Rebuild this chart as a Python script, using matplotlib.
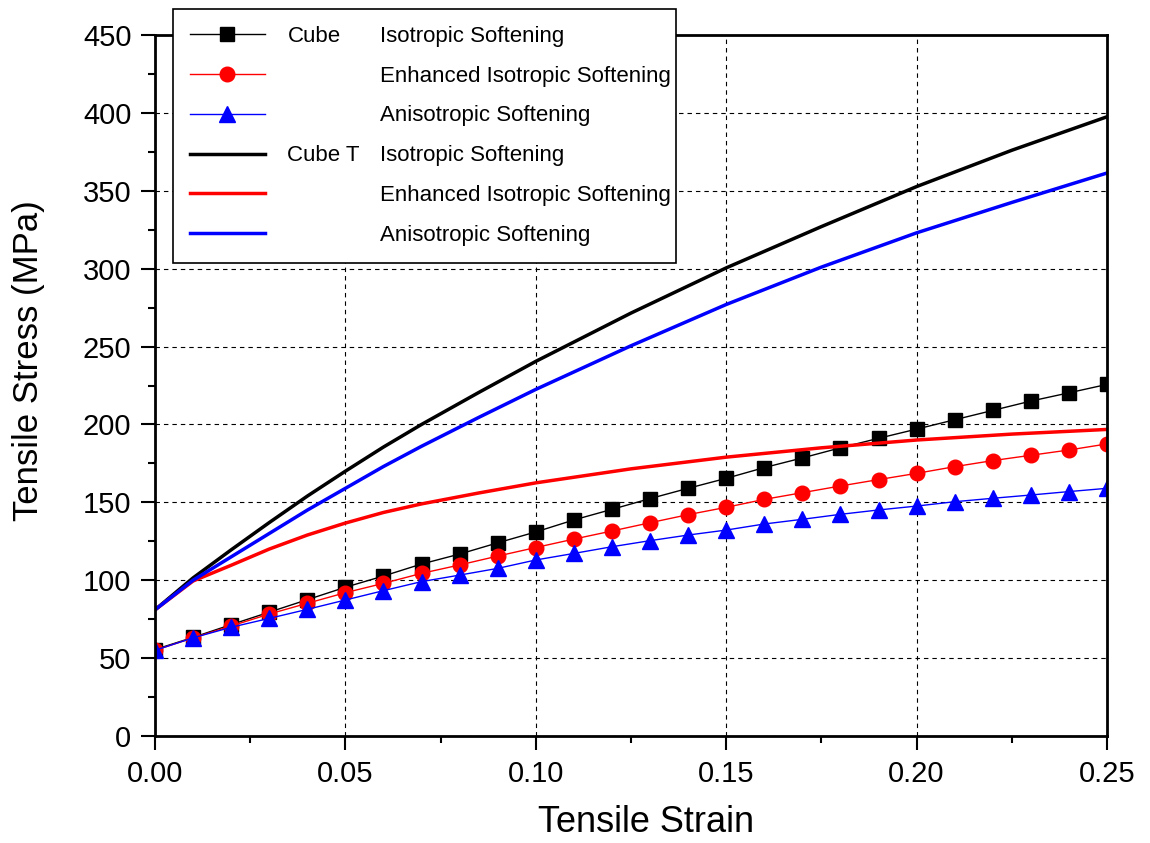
import matplotlib
matplotlib.use("Agg")
import matplotlib.pyplot as plt
from matplotlib.ticker import MultipleLocator, FormatStrFormatter

plt.rcParams['font.family'] = ['Liberation Sans', 'DejaVu Sans']

# marker series (Cube)
strain = [0.00, 0.01, 0.02, 0.03, 0.04, 0.05, 0.06, 0.07, 0.08, 0.09, 0.10, 0.11, 0.12,
          0.13, 0.14, 0.15, 0.16, 0.17, 0.18, 0.19, 0.20, 0.21, 0.22, 0.23, 0.24, 0.25]
cube_iso = [55.5, 63.3, 71.5, 79.5, 87.5, 95.5, 102.7, 110.4, 116.8, 124.0, 131.0, 138.7, 145.5,
            152.4, 159.0, 165.4, 172.3, 178.5, 185.0, 191.1, 197.0, 203.0, 209.0, 215.0, 220.3, 225.7]
cube_enh = [55.0, 63.0, 70.6, 78.3, 85.2, 92.0, 98.0, 104.4, 109.8, 115.5, 121.0, 126.4, 131.6,
            136.9, 142.1, 146.8, 151.9, 156.2, 160.5, 164.6, 168.6, 172.9, 176.8, 180.2, 183.6, 187.5]
cube_aniso = [55.0, 63.0, 69.8, 75.5, 81.3, 87.3, 93.3, 99.1, 103.3, 107.6, 113.0, 117.2, 121.5,
              125.4, 129.0, 132.2, 136.1, 139.1, 142.3, 145.1, 147.6, 150.4, 152.6, 154.7, 156.9, 159.0]

# solid series (Cube T)
strain_t = [0.00, 0.01, 0.02, 0.03, 0.04, 0.05, 0.06, 0.07, 0.085, 0.10,
            0.125, 0.15, 0.175, 0.20, 0.225, 0.25]
cubet_iso = [81, 101.5, 119.5, 137, 154, 170, 185.5, 200, 220.5, 240.5,
             271.5, 300.5, 327, 352.7, 376, 397.5]
cubet_enh = [81, 99.5, 109.6, 120, 129, 136.7, 143.5, 149, 156, 162.5,
             171.5, 179, 185, 190, 193.8, 196.8]
cubet_aniso = [81, 100, 115, 130, 145, 159, 173, 186, 204.5, 222.5,
               250.5, 277, 301, 323, 342.5, 361.4]

left_labels = ['Cube', ' ', ' ', 'Cube T', ' ', ' ']
right_labels = ['Isotropic Softening', 'Enhanced Isotropic Softening', 'Anisotropic Softening',
                'Isotropic Softening', 'Enhanced Isotropic Softening', 'Anisotropic Softening']

W, H = 1150, 843
fig = plt.figure(figsize=(W / 100, H / 100), dpi=100)
ax = fig.add_axes([155 / W, 107 / H, 952 / W, 701 / H])

h1, = ax.plot(strain, cube_iso, color='black', lw=1.0, marker='s', ms=9.5, mec='black')
h2, = ax.plot(strain, cube_enh, color='red', lw=1.0, marker='o', ms=10.5, mec='red')
h3, = ax.plot(strain, cube_aniso, color='blue', lw=1.0, marker='^', ms=11, mec='blue')
h4, = ax.plot(strain_t, cubet_iso, color='black', lw=2.5)
h5, = ax.plot(strain_t, cubet_enh, color='red', lw=2.5)
h6, = ax.plot(strain_t, cubet_aniso, color='blue', lw=2.5)

ax.set_xlim(0, 0.25)
ax.set_ylim(0, 450)
ax.xaxis.set_major_locator(MultipleLocator(0.05))
ax.xaxis.set_minor_locator(MultipleLocator(0.025))
ax.yaxis.set_major_locator(MultipleLocator(50))
ax.yaxis.set_minor_locator(MultipleLocator(25))
ax.xaxis.set_major_formatter(FormatStrFormatter('%.2f'))

ax.set_axisbelow(True)
ax.grid(True, which='major', color='black', lw=0.8, linestyle=(0, (4, 3.6)))

for s in ax.spines.values():
    s.set_linewidth(2.0)
ax.tick_params(which='major', direction='out', length=10, width=1.5, labelsize=21, pad=7)
ax.tick_params(which='minor', direction='out', length=5, width=1.5)
ax.tick_params(top=False, right=False)

ax.set_xlabel('Tensile Strain', fontsize=26)
ax.xaxis.set_label_coords(0.5158, -0.1227)
ax.xaxis.label.set_verticalalignment('center')
ax.set_ylabel('Tensile Stress (MPa)', fontsize=25)
ax.yaxis.set_label_coords(-0.133, 0.536)
ax.yaxis.label.set_verticalalignment('center')

leg = fig.legend([h1, h2, h3, h4, h5, h6], left_labels, loc='upper left',
                 bbox_to_anchor=(173 / W, 0.5, 503 / W, 1 - 9 / H - 0.5),
                 bbox_transform=fig.transFigure, mode='expand', borderaxespad=0,
                 fontsize=16, frameon=True, fancybox=False, framealpha=1,
                 edgecolor='black', labelspacing=0.85, borderpad=0.75,
                 handlelength=3.4, handletextpad=1.0, numpoints=1)
leg.get_frame().set_linewidth(1.2)

# second column of legend text, aligned to the legend rows
fig.canvas.draw()
renderer = fig.canvas.get_renderer()
for t, lab in zip(leg.get_texts(), right_labels):
    bb = t.get_window_extent(renderer)
    yc = (bb.y0 + bb.y1) / 2
    fig.text(380 / W, yc / H, lab, fontsize=16, ha='left', va='center', zorder=10)

fig.savefig('out.png', dpi=100)
